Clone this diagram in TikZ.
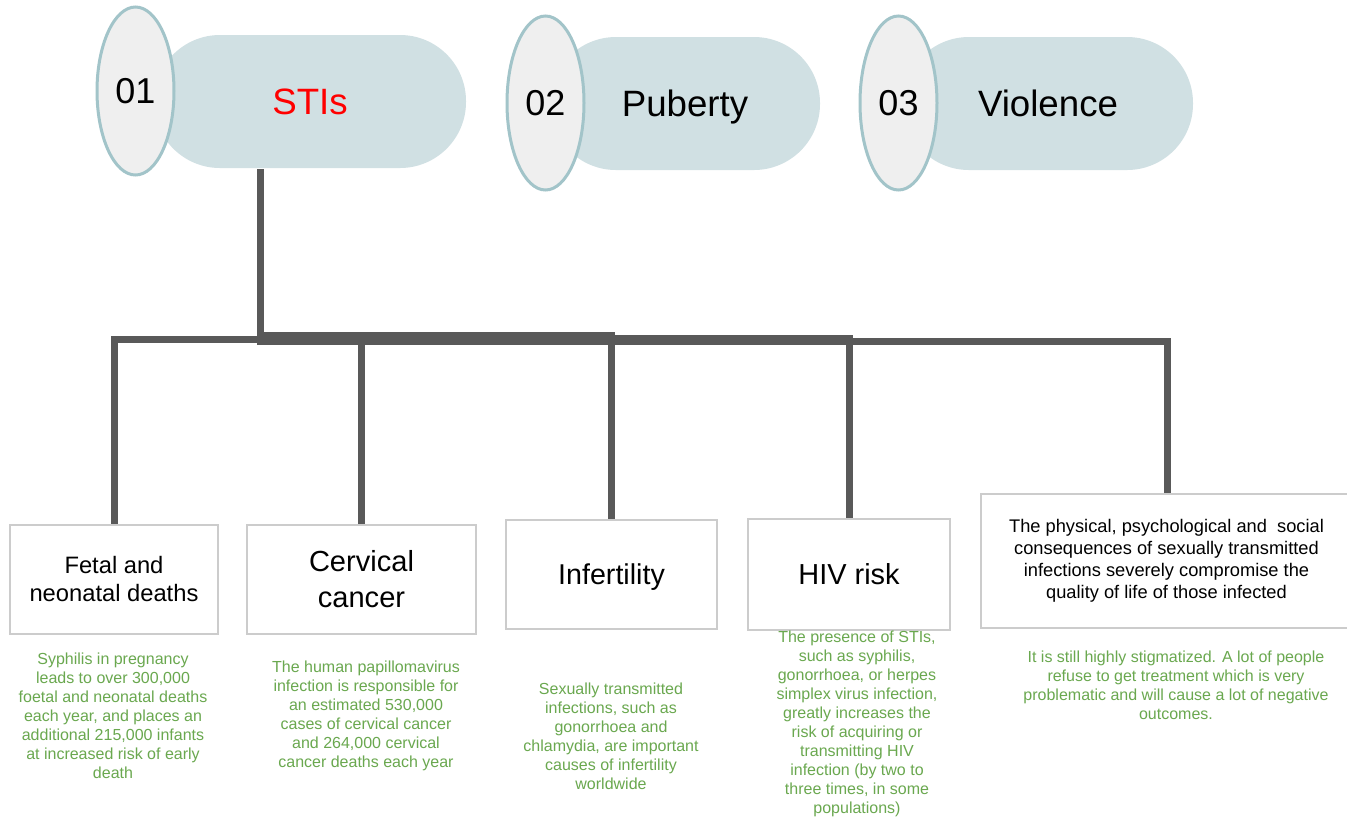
\documentclass[tikz,border=0pt]{standalone}
\usepackage{fontspec}
\setmainfont{Liberation Sans}
\usetikzlibrary{shapes.geometric}
\definecolor{pillfill}{HTML}{D0E0E3}
\definecolor{ellfill}{HTML}{EFEFEF}
\definecolor{ellline}{HTML}{A2C4C9}
\definecolor{connc}{HTML}{595959}
\definecolor{boxline}{HTML}{CCCCCC}
\definecolor{greentxt}{HTML}{6AA84F}
\definecolor{redtxt}{HTML}{FF0000}
\tikzset{
  pill/.style={fill=pillfill, draw=none, rounded corners=49.5pt, minimum height=99.75pt, inner sep=0pt,
    text depth=0pt, font=\fontsize{27.5}{33}\selectfont},
  numell/.style={ellipse, fill=ellfill, draw=ellline, line width=2.25pt, minimum width=57.75pt, inner sep=0pt,
    font=\fontsize{27}{33}\selectfont},
  conn/.style={draw=connc, line width=5.25pt},
  topicbox/.style={rectangle, draw=boxline, line width=1.5pt, fill=white, inner sep=0pt, align=center},
  note/.style={text=greentxt, align=center, inner sep=0pt, font=\fontsize{12}{14.25}\selectfont}
}
\begin{document}
\begin{tikzpicture}[x=0.75pt,y=-0.75pt]
\useasboundingbox (0,0) rectangle (1347,819);
\fill[white] (0,0) rectangle (1347,819);
% top pills
\node[pill, minimum width=234pt, text=redtxt] (p1) at (310,101.5) {STIs};
\node[pill, minimum width=202.5pt] (p2) at (685,103.5) {Puberty};
\node[pill, minimum width=217.5pt] (p3) at (1048,103.5) {Violence};
\node[numell, minimum height=126pt] (e1) at (135.5,91) {01};
\node[numell, minimum height=130.5pt] (e2) at (545.5,103) {02};
\node[numell, minimum height=130.5pt] (e3) at (898.5,103) {03};
% boxes
\node[topicbox, minimum width=156pt, minimum height=81.75pt, font=\fontsize{17.8}{21}\selectfont] (b1) at (114,579.5) {Fetal and\\neonatal deaths};
\node[topicbox, minimum width=171.75pt, minimum height=81.75pt, font=\fontsize{21.8}{27}\selectfont] (b2) at (361.5,579.5) {Cervical\\cancer};
\node[topicbox, minimum width=158.25pt, minimum height=81.75pt, text depth=0pt, font=\fontsize{21.5}{27}\selectfont] (b3) at (611.5,574.5) {Infertility};
\node[topicbox, minimum width=151.5pt, minimum height=83.25pt, font=\fontsize{21.7}{27}\selectfont] (b4) at (849,574.5) {HIV risk};
\node[topicbox, minimum width=278.25pt, minimum height=100.5pt, font=\fontsize{13.7}{16.5}\selectfont] (b5) at (1166.5,561) {The physical, psychological and\ \ social\\consequences of sexually transmitted\\infections severely compromise the\\quality of life of those infected};
% connectors
\coordinate (stem) at (260,169);
\draw[conn] (stem) -- (260,339) -| (b1.north);
\draw[conn] (stem) -- (260,336) -| (b2.north);
\draw[conn] (stem) -- (260,335) -| (b3.north);
\draw[conn] (stem) -- (260,338) -| (b4.north);
\draw[conn] (stem) -- (260,341) -| ([xshift=0.75pt]b5.north);
% notes
\node[note] (n1) at (113,716) {Syphilis in pregnancy\\leads to over 300,000\\foetal and neonatal deaths\\each year, and places an\\additional 215,000 infants\\at increased risk of early\\death};
\node[note] (n2) at (366,716) {The human papillomavirus\\infection is responsible for\\an estimated 530,000\\cases of cervical cancer\\and 264,000 cervical\\cancer deaths each year};
\node[note] (n3) at (611,736) {Sexually transmitted\\infections, such as\\gonorrhoea and\\chlamydia, are important\\causes of infertility\\worldwide};
\node[note] (n4) at (857,724) {The presence of STIs,\\such as syphilis,\\gonorrhoea, or herpes\\simplex virus infection,\\greatly increases the\\risk of acquiring or\\transmitting HIV\\infection (by two to\\three times, in some\\populations)};
\node[note] (n5) at (1176,685.5) {It is still highly stigmatized. A lot of people\\refuse to get treatment which is very\\problematic and will cause a lot of negative\\outcomes.};
\end{tikzpicture}
\end{document}
